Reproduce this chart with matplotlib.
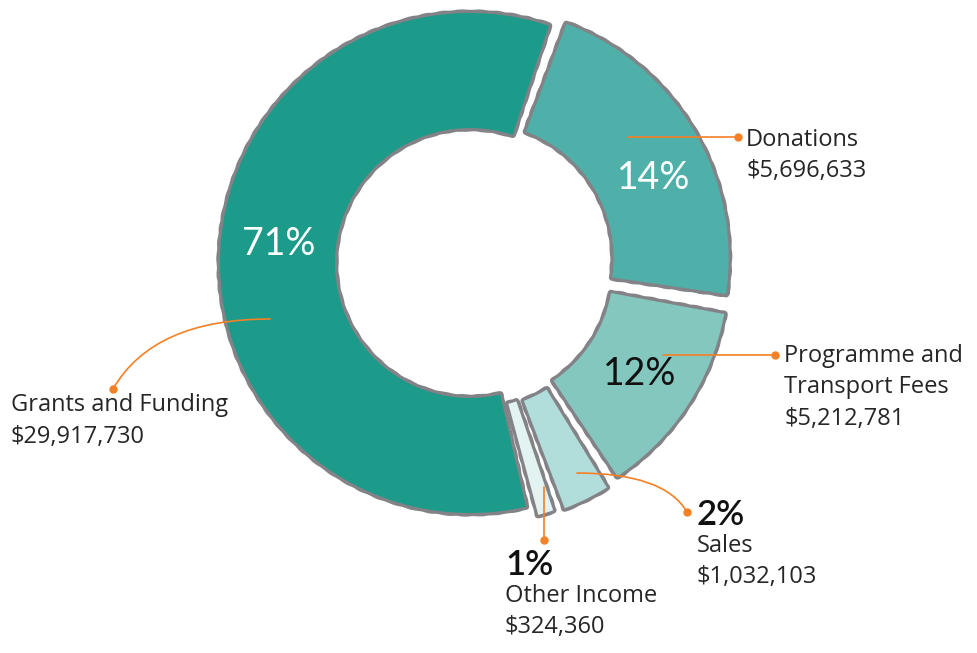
import matplotlib.pyplot as plt
import numpy as np

# income sources as written on the chart
categories = ['Grants and Funding', 'Donations', 'Programme and\nTransport Fees', 'Sales', 'Other Income']
amounts = [29917730, 5696633, 5212781, 1032103, 324360]
# the slices in the picture are not drawn to scale, these are the shares as drawn (% of circle)
drawn_share = [59.3, 22.2, 13.3, 3.6, 1.6]
colors = ['#1c9a8a', '#4eb0a8', '#84c7bf', '#b1dedb', '#e2f3f1']
pct_color = ['white', 'white', '#111111', '#111111', '#111111']

W, H = 978, 653
GRAY = '#838387'
ORANGE = '#f58025'
TEXT = '#262626'


def px(x, y):
    # picture pixel coords (y down) -> axes coords (y up)
    return x, H - y


fig = plt.figure(figsize=(W / 100, H / 100), dpi=100)
ax = fig.add_axes([0, 0, 1, 1])

center = px(470, 263)
explode = [0, 10, 10, 13, 11]
pie_kw = dict(radius=250, center=center, startangle=284, counterclock=False, explode=explode)

shadow, _ = ax.pie(drawn_share, colors=[GRAY] * len(amounts),
                   wedgeprops=dict(width=115, edgecolor=GRAY, linewidth=5, joinstyle='round'),
                   **pie_kw)
wedges, _ = ax.pie(drawn_share, colors=colors,
                   wedgeprops=dict(width=115, linewidth=0), **pie_kw)

trim = 1.1
for w in shadow:
    w.set_theta1(w.theta1 + trim)
    w.set_theta2(w.theta2 - trim)
    w.set_sketch_params(0.3, 18, 2)
for w in wedges:
    w.set_theta1(w.theta1 + trim)
    w.set_theta2(w.theta2 - trim)

total = sum(amounts)
pcts = ['%d%%' % round(100 * a / total) for a in amounts]

# big percentages inside the three large slices (small angle nudge as placed in the picture)
nudge = [-3, -6, 0]
for i in range(3):
    w = wedges[i]
    ang = np.deg2rad((w.theta1 + w.theta2) / 2 + nudge[i])
    r = w.r - w.width / 2
    ax.text(w.center[0] + r * np.cos(ang), w.center[1] + r * np.sin(ang), pcts[i],
            ha='center', va='center', fontsize=27, color=pct_color[i], family='Lato')

# leader lines: start in slice, dot, connection style, text position (left, first baseline)
leaders = [
    ((270, 319), (113, 389), 'angle3,angleA=0,angleB=60', (11, 411)),
    ((628, 137), (738, 137), 'arc3,rad=0', (746, 146)),
    ((663, 355), (775, 355), 'arc3,rad=0', (784, 362)),
    ((577, 473), (687, 512), 'angle3,angleA=0,angleB=-60', (697, 552)),
    ((544, 487), (544, 540), 'arc3,rad=0', (505, 602)),
]

for i, (start, dot, conn, tpos) in enumerate(leaders):
    ax.annotate('', xy=px(*dot), xytext=px(*start),
                arrowprops=dict(arrowstyle='-', color=ORANGE, lw=1.2, connectionstyle=conn,
                                shrinkA=0, shrinkB=0))
    ax.plot(*px(*dot), 'o', color=ORANGE, markersize=5, zorder=5)

    lines = categories[i].split('\n') + ['${:,}'.format(amounts[i])]
    x0, y0 = tpos
    for k, line in enumerate(lines):
        ax.text(*px(x0, y0 + 31.5 * k), line, ha='left', va='baseline',
                fontsize=17, color=TEXT, family='Open Sans')
    if i >= 3:
        ax.text(*px(x0, y0 - 27), pcts[i], ha='left', va='baseline',
                fontsize=25, color='#111111', family='Lato', fontweight='semibold')

ax.set_xlim(0, W)
ax.set_ylim(0, H)
ax.set_aspect('equal')
ax.axis('off')

fig.savefig('out.png', dpi=100)
